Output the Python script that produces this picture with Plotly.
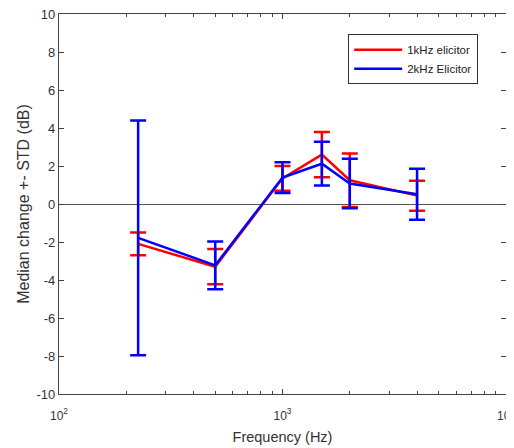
import plotly.graph_objects as go

freq = [226, 500, 1000, 1500, 2000, 4000]
red_median = [-2.1, -3.3, 1.35, 2.6, 1.25, 0.44]
red_std = [0.6, 0.93, 0.65, 1.19, 1.41, 0.79]
blue_median = [-1.78, -3.23, 1.39, 2.12, 1.08, 0.51]
blue_std = [6.18, 1.26, 0.81, 1.15, 1.3, 1.34]

x_major = [100, 1000, 10000]
x_major_text = ["10<sup>2</sup>", "10<sup>3</sup>", "10<sup>4</sup>"]
x_minor = [200, 300, 400, 500, 600, 700, 800, 900,
           2000, 3000, 4000, 5000, 6000, 7000, 8000, 9000]
y_ticks = [-10, -8, -6, -4, -2, 0, 2, 4, 6, 8, 10]
y_text = ["-10", "-8", "-6", "-4", "-2", "0", "2", "4", "6", "8", "10"]

fig = go.Figure()
fig.add_trace(go.Scatter(
    x=freq, y=red_median, mode="lines", name="1kHz elicitor",
    line=dict(color="#ff0000", width=2.5),
    error_y=dict(type="data", array=red_std, color="#ff0000", thickness=2.5, width=8),
))
fig.add_trace(go.Scatter(
    x=freq, y=blue_median, mode="lines", name="2kHz Elicitor",
    line=dict(color="#0000ff", width=2.5),
    error_y=dict(type="data", array=blue_std, color="#0000ff", thickness=2.5, width=8),
))

ff = "Liberation Sans, Arial, sans-serif"
fig.update_layout(
    width=506, height=440,
    margin=dict(l=51, r=8, t=6, b=54, autoexpand=False),
    paper_bgcolor="white", plot_bgcolor="white",
    font=dict(family=ff, size=12, color="#333333"),
    showlegend=True,
    legend=dict(x=0.647, y=0.947, xanchor="left", yanchor="top",
                bordercolor="#333333", borderwidth=1, bgcolor="white",
                font=dict(family=ff, size=11.5, color="#222222"),
                tracegroupgap=0, itemwidth=48),
    xaxis=dict(type="log", range=[2, 4], tickmode="array", tickvals=x_major,
               ticktext=x_major_text, ticks="inside", ticklen=5, tickcolor="#444444",
               showline=True, linecolor="#444444", linewidth=1.2, mirror="ticks",
               showgrid=False, zeroline=False, automargin=False,
               ticklabelstandoff=10, ticklabeloverflow="allow",
               minor=dict(tickmode="array", tickvals=x_minor, ticks="inside",
                          ticklen=3, tickcolor="#444444", showgrid=False),
               title=dict(text="Frequency (Hz)", standoff=10, font=dict(size=14.5)),
               tickfont=dict(size=12)),
    yaxis=dict(range=[-10, 10], tickmode="array", tickvals=y_ticks, ticktext=y_text,
               ticks="inside", ticklen=5, tickcolor="#444444",
               showline=True, linecolor="#444444", linewidth=1.2, mirror="ticks",
               showgrid=False, zeroline=True, zerolinecolor="#555555", zerolinewidth=1.3,
               automargin=False, ticklabelstandoff=0, ticklabeloverflow="allow",
               title=dict(text="Median change +- STD (dB)", standoff=2, font=dict(size=16)),
               tickfont=dict(size=13)),
)

fig.write_html("out.html")
